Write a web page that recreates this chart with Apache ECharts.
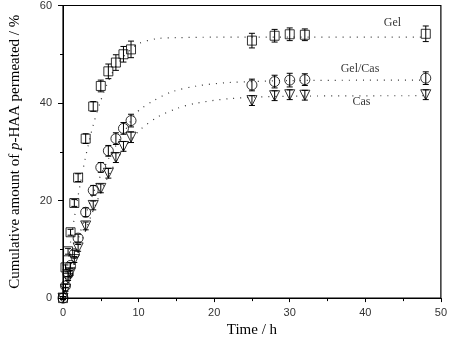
<!DOCTYPE html>
<html><head><meta charset="utf-8">
<script src="https://cdn.jsdelivr.net/npm/echarts@6/dist/echarts.min.js"></script>
<style>html,body{margin:0;padding:0;background:#fff}#c{width:450px;height:343px}</style>
</head><body><div id="c"></div>
<script>
// Measured times (h)
const times = [0,0.33,0.67,1,1.5,2,3,4,5,6,7,8,9,25,28,30,32,48];
// Cumulative amount permeated (%)
const gel    = [0,6.3,9.6,13.5,19.5,24.7,32.7,39.3,43.5,46.5,48.3,50,51,52.8,53.8,54.1,54,54.2];
const gelErr = [0.3,0.5,0.6,0.6,0.7,0.8,1,1,1.2,1.5,1.6,1.6,1.7,1.5,1.3,1.3,1.2,1.6];
const gelCas    = [0,2.5,4.9,6.7,9.1,12.3,17.6,22.1,26.8,30.2,32.7,34.8,36.4,43.7,44.4,44.7,44.8,45.1];
const gelCasErr = [0.3,0.4,0.5,0.6,0.7,0.8,0.9,1,1,1.1,1.2,1.2,1.3,1.2,1.3,1.4,1.2,1.3];
const cas    = [0,1.8,4,5.2,7.9,10.3,14.8,19,22.5,25.6,28.8,31.1,33,40.5,41.5,41.7,41.6,41.7];
const casErr = [0.3,0.4,0.4,0.5,0.6,0.7,0.8,0.9,0.9,1,1,1,1.1,1,1,1,1,1];
// Fitted (dotted) curves
const fitGelT = [0,1,2,3,4,5,6,7,8,9,10,12.4,15,20,30,48];
const fitGel  = [0,11.5,21,29,35.5,40.5,44.5,47.5,49.5,51,52.2,53.2,53.4,53.5,53.5,53.5];
const fitGelCasT = [0,2,4,6,8,9.5,10.3,12,14.4,17.7,22,30,48];
const fitGelCas  = [0,12,21.5,28.5,33.8,37.6,38.8,40.5,42.3,43.5,44.2,44.6,44.7];
const fitCasT = [0,2,4,6,8,10.2,12.6,15.1,17.4,22,30,48];
const fitCas  = [0,9.5,18,25,30.5,34.5,37.2,38.9,39.9,40.9,41.4,41.5];
// Curve labels
const labelNames = ['Gel','Gel/Cas','Cas'];
const labelPos = [[43.6,56.5],[39.3,47],[39.5,40.3]];

const pts = (xs, ys) => xs.map((x,i)=>[x, ys[i]]);
const errPts = (xs, ys, es) => xs.map((x,i)=>[x, ys[i]-es[i], ys[i]+es[i]]);

function errSeries(data){
  return {
    type:'custom', data: data, z: 3, silent: true,
    renderItem(params, api){
      const x = api.value(0);
      const lo = api.coord([x, api.value(1)]);
      const hi = api.coord([x, api.value(2)]);
      const w = 3;
      const st = {stroke:'#000', lineWidth:1, fill:null};
      return {type:'group', children:[
        {type:'line', shape:{x1:lo[0],y1:lo[1],x2:hi[0],y2:hi[1]}, style:st},
        {type:'line', shape:{x1:lo[0]-w,y1:lo[1],x2:lo[0]+w,y2:lo[1]}, style:st},
        {type:'line', shape:{x1:hi[0]-w,y1:hi[1],x2:hi[0]+w,y2:hi[1]}, style:st}
      ]};
    }
  };
}
function fitSeries(xs, ys){
  return {type:'line', data: pts(xs, ys), smooth: 0.3, showSymbol:false, silent:true,
    lineStyle:{color:'#333', width:1.2, type:[1,6]}, z:1};
}
function markSeries(data, symbol, size, rotate){
  return {type:'scatter', data: data, symbol: symbol, symbolSize: size, symbolRotate: rotate||0,
    itemStyle:{color:'rgba(255,255,255,0)', borderColor:'#000', borderWidth:1}, z:4};
}

const chart = echarts.init(document.getElementById('c'), null, {renderer:'canvas'});
chart.setOption({
  animation:false,
  backgroundColor:'#fff',
  grid:{left:60, right:3, top:3, bottom:44, show:true, borderColor:'#000', borderWidth:1.2},
  xAxis:{type:'value', min:0, max:50, interval:10,
    name:'Time / h', nameLocation:'middle', nameGap:21,
    nameTextStyle:{fontFamily:'Liberation Serif', fontSize:15, color:'#000'},
    axisLine:{onZero:false, lineStyle:{color:'#000', width:1}},
    axisTick:{show:true, inside:false, length:4, lineStyle:{color:'#000'}},
    minorTick:{show:true, splitNumber:2, length:3, lineStyle:{color:'#000'}},
    axisLabel:{fontFamily:'Liberation Sans', fontSize:11, color:'#333', margin:9},
    splitLine:{show:false}},
  yAxis:{type:'value', min:0, max:60, interval:20,
    name:'Cumulative amount of {i|p}-HAA permeated / %', nameLocation:'middle', nameGap:40,
    nameTextStyle:{fontFamily:'Liberation Serif', fontSize:15, color:'#000',
      rich:{i:{fontFamily:'Liberation Serif', fontSize:15, fontStyle:'italic', color:'#000'}}},
    axisLine:{lineStyle:{color:'#000', width:1}},
    axisTick:{show:true, inside:false, length:5, lineStyle:{color:'#000'}},
    minorTick:{show:true, splitNumber:2, length:3, lineStyle:{color:'#000'}},
    axisLabel:{fontFamily:'Liberation Sans', fontSize:11, color:'#333', margin:11},
    splitLine:{show:false}},
  series:[
    fitSeries(fitGelT, fitGel),
    fitSeries(fitGelCasT, fitGelCas),
    fitSeries(fitCasT, fitCas),
    errSeries(errPts(times, gel, gelErr)),
    errSeries(errPts(times, gelCas, gelCasErr)),
    errSeries(errPts(times, cas, casErr)),
    markSeries(pts(times, gel), 'rect', 9),
    markSeries(pts(times, gelCas), 'circle', 10),
    markSeries(pts(times, cas), 'triangle', 10, 180),
    {type:'scatter', symbolSize:0, silent:true, z:5,
      data: labelPos.map((p,i)=>({value:p, name:labelNames[i]})),
      label:{show:true, position:'inside', formatter:'{b}', fontFamily:'Liberation Serif', fontSize:12, color:'#000'}}
  ]
});
</script></body></html>
